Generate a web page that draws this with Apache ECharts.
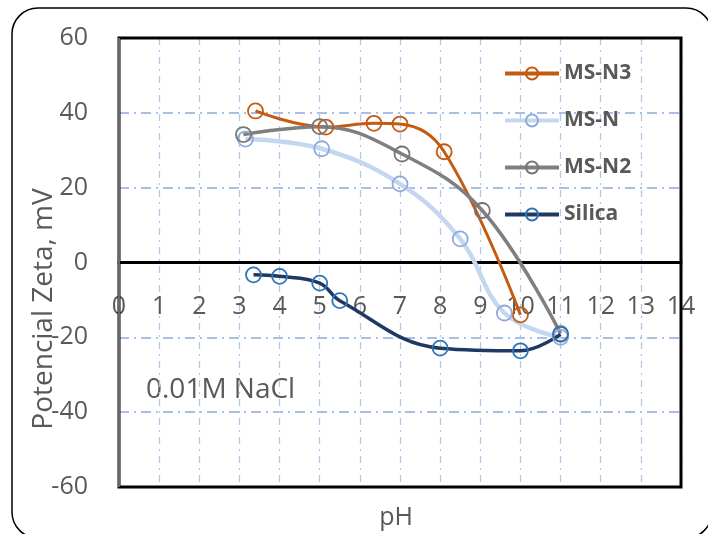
<!DOCTYPE html>
<html>
<head>
<meta charset="utf-8">
<script src="https://cdn.jsdelivr.net/npm/echarts@6/dist/echarts.min.js"></script>
<style>
  html, body { margin: 0; padding: 0; background: #fff; }
  #chart { width: 708px; height: 534px; }
</style>
</head>
<body>
<div id="chart"></div>
<script>
// datos (pH, potencial zeta mV)
const msN3 = [[3.4, 40.5], [5.15, 36.2], [6.35, 37.2], [7.0, 37.0], [8.1, 29.6], [10.0, -14.0]]
const msN = [[3.15, 33.0], [5.05, 30.4], [7.0, 21.0], [8.5, 6.3], [9.6, -13.5], [11.0, -20.0]]
const msN2 = [[3.1, 34.2], [5.0, 36.3], [7.05, 29.0], [9.05, 13.9], [11.0, -19.0]]
const silica = [[3.35, -3.3], [4.0, -3.7], [5.0, -5.5], [5.5, -10.2], [8.0, -22.9], [10.0, -23.6], [11.0, -19.2]]
const seriesNames = ['MS-N3', 'MS-N', 'MS-N2', 'Silica']

const chart = echarts.init(document.getElementById('chart'))
const font = 'Open Sans'

// area de trazado (px)
const plot = { left: 119, top: 38, width: 562, height: 449 }

// serie de linea suavizada con marcadores huecos
function lineSerie (name, data, lineColor, markColor, width) {
  return {
    name: name,
    type: 'line',
    data: data,
    smooth: 0.4,
    symbol: 'circle',
    symbolSize: 15,
    lineStyle: { color: lineColor, width: width },
    itemStyle: { color: 'rgba(255,255,255,0)', borderColor: markColor, borderWidth: 1.8 },
    emphasis: { disabled: true }
  }
}

chart.setOption({
  animation: false,
  backgroundColor: '#fff',
  textStyle: { fontFamily: font },
  grid: {
    left: plot.left,
    top: plot.top,
    width: plot.width,
    height: plot.height
  },
  legend: {
    orient: 'vertical',
    left: 498,
    top: 58,
    itemWidth: 54,
    itemHeight: 15,
    itemGap: 26,
    data: seriesNames,
    lineStyle: { width: 4 },
    textStyle: { fontFamily: font, fontSize: 21, fontWeight: 'bold', color: '#595959', lineHeight: 20 }
  },
  xAxis: {
    type: 'value',
    min: 0,
    max: 14,
    interval: 1,
    offset: -plot.height / 2, // eje sobre y = 0
    axisLine: { onZero: false, lineStyle: { color: '#000', width: 3 } },
    axisTick: { show: false },
    axisLabel: { fontFamily: font, fontSize: 25, color: '#595959', margin: 32 },
    splitLine: { show: true, lineStyle: { color: '#b4c7e7', width: 1.3, type: [7, 5, 2, 5] } }
  },
  yAxis: {
    type: 'value',
    min: -60,
    max: 60,
    interval: 20,
    axisLine: { show: false },
    axisTick: { show: false },
    axisLabel: { fontFamily: font, fontSize: 25, color: '#595959', margin: 31 },
    splitLine: { show: true, lineStyle: { color: '#8faadc', width: 1.5, type: [10, 5, 2, 5] } }
  },
  graphic: [
    {
      type: 'rect',
      z: -10,
      silent: true,
      shape: { x: 12, y: 8, width: 700, height: 530, r: 26 },
      style: { fill: 'none', stroke: '#000', lineWidth: 1.5 }
    },
    {
      type: 'rect',
      z: 50,
      silent: true,
      shape: { x: plot.left, y: plot.top, width: plot.width, height: plot.height },
      style: { fill: 'none', stroke: '#000', lineWidth: 3 }
    },
    {
      type: 'line',
      z: 51,
      silent: true,
      shape: { x1: plot.left, y1: plot.top, x2: plot.left, y2: plot.top + plot.height },
      style: { stroke: '#d0d0d0', lineWidth: 1 }
    },
    {
      type: 'text',
      x: 44,
      y: 309,
      rotation: Math.PI / 2,
      style: {
        text: 'Potencial Zeta, mV',
        fontFamily: font,
        fontSize: 28,
        fill: '#595959',
        textAlign: 'center',
        textVerticalAlign: 'middle'
      }
    },
    {
      type: 'text',
      x: 396,
      y: 518,
      style: {
        text: 'pH',
        fontFamily: font,
        fontSize: 25,
        fill: '#595959',
        textAlign: 'center',
        textVerticalAlign: 'middle'
      }
    },
    {
      type: 'text',
      x: 146,
      y: 390,
      style: {
        text: '0.01M NaCl',
        fontFamily: font,
        fontSize: 28,
        fill: '#595959',
        textAlign: 'left',
        textVerticalAlign: 'middle'
      }
    }
  ],
  series: [
    lineSerie('MS-N3', msN3, '#c55a11', '#c55a11', 3),
    lineSerie('MS-N', msN, '#c5d7f0', '#8faadc', 4.5),
    lineSerie('MS-N2', msN2, '#7f7f7f', '#767676', 3.5),
    lineSerie('Silica', silica, '#203864', '#2e75b6', 3.5)
  ]
})
</script>
</body>
</html>
